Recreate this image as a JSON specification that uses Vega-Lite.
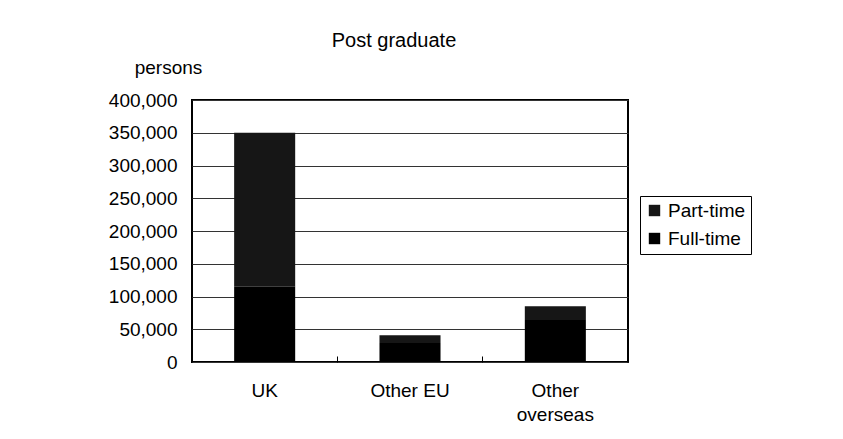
{
  "$schema": "https://vega.github.io/schema/vega-lite/v6.json",
  "autosize": "none",
  "width": 436,
  "height": 262,
  "padding": {"left": 192, "top": 100, "right": 215, "bottom": 77},
  "background": "white",
  "title": {
    "text": "Post graduate",
    "anchor": "middle",
    "frame": "group",
    "dx": -16,
    "offset": 7,
    "fontSize": 20,
    "fontWeight": "normal",
    "font": "Liberation Sans",
    "color": "black"
  },
  "data": {
    "values": [
      {"origin": "UK", "mode": "Full-time", "rank": 0, "students": 115000},
      {"origin": "UK", "mode": "Part-time", "rank": 1, "students": 235000},
      {"origin": "Other EU", "mode": "Full-time", "rank": 0, "students": 29000},
      {"origin": "Other EU", "mode": "Part-time", "rank": 1, "students": 12000},
      {"origin": "Other overseas", "mode": "Full-time", "rank": 0, "students": 64000},
      {"origin": "Other overseas", "mode": "Part-time", "rank": 1, "students": 21000}
    ]
  },
  "mark": {"type": "bar"},
  "encoding": {
    "x": {
      "field": "origin",
      "type": "nominal",
      "sort": ["UK", "Other EU", "Other overseas"],
      "scale": {"paddingInner": 0.58, "paddingOuter": 0.29},
      "axis": {
        "title": null,
        "labelAngle": 0,
        "labelExpr": "datum.label == 'Other overseas' ? ['Other', 'overseas'] : datum.label",
        "labelLineHeight": 24,
        "labelPadding": 25,
        "labelBaseline": "top",
        "bandPosition": 1.69,
        "ticks": true,
        "tickSize": -6,
        "tickColor": "black",
        "domain": false
      }
    },
    "y": {
      "field": "students",
      "type": "quantitative",
      "aggregate": "sum",
      "stack": "zero",
      "scale": {"domain": [0, 400000], "nice": false},
      "axis": {
        "title": "persons",
        "titleAngle": 0,
        "titleAlign": "center",
        "titleBaseline": "alphabetic",
        "titleX": -24,
        "titleY": -27,
        "values": [0, 50000, 100000, 150000, 200000, 250000, 300000, 350000, 400000],
        "format": ",d",
        "ticks": false,
        "domain": false,
        "labelPadding": 15,
        "grid": true
      }
    },
    "color": {
      "field": "mode",
      "type": "nominal",
      "scale": {"domain": ["Part-time", "Full-time"], "range": ["#161616", "#000000"]},
      "legend": {
        "title": null,
        "orient": "none",
        "legendX": 448,
        "legendY": 96,
        "padding": 5,
        "strokeColor": "black",
        "fillColor": "white",
        "symbolType": "square",
        "symbolSize": 130,
        "symbolStrokeWidth": 0,
        "rowPadding": 8,
        "labelOffset": 4
      }
    },
    "order": {"field": "rank", "type": "quantitative", "sort": "ascending"}
  },
  "config": {
    "font": "Liberation Sans",
    "view": {"stroke": "black", "strokeWidth": 2},
    "axis": {
      "labelFontSize": 19,
      "titleFontSize": 19,
      "titleFontWeight": "normal",
      "labelColor": "black",
      "titleColor": "black",
      "gridColor": "#333333",
      "gridWidth": 1,
      "gridOpacity": 1
    },
    "legend": {"labelFontSize": 19, "labelColor": "black"}
  }
}
